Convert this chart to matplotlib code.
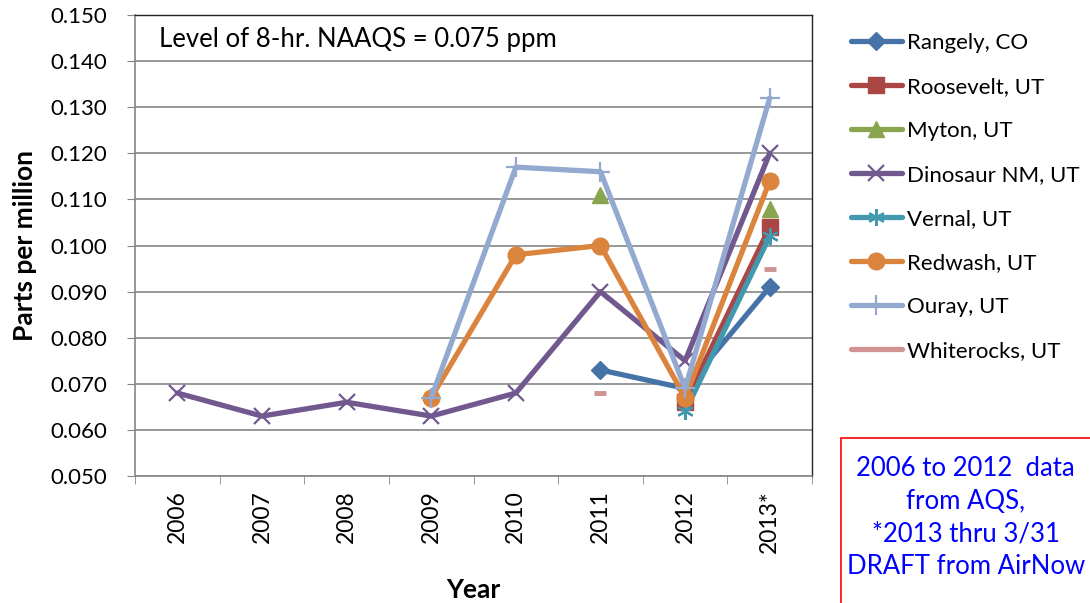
import numpy as np
import matplotlib.pyplot as plt
from matplotlib.patches import Rectangle

plt.rcParams['font.family'] = ['Lato', 'DejaVu Sans']

# Data (ppm, 4th max 8-hr ozone)
years = ["2006", "2007", "2008", "2009", "2010", "2011", "2012", "2013*"]
nan = np.nan
rangely = [nan, nan, nan, nan, nan, 0.073, 0.069, 0.091]
roosevelt = [nan, nan, nan, nan, nan, nan, 0.066, 0.104]
myton = [nan, nan, nan, nan, nan, 0.111, nan, 0.108]
dinosaur = [0.068, 0.063, 0.066, 0.063, 0.068, 0.090, 0.075, 0.120]
vernal = [nan, nan, nan, nan, nan, nan, 0.064, 0.102]
redwash = [nan, nan, nan, 0.067, 0.098, 0.100, 0.067, 0.114]
ouray = [nan, nan, nan, 0.067, 0.117, 0.116, 0.069, 0.132]
whiterocks = [nan, nan, nan, nan, nan, 0.068, nan, 0.095]

series = [
    ("Rangely, CO", rangely, "#4572A7", "D", 9),
    ("Roosevelt, UT", roosevelt, "#AA4643", "s", 11),
    ("Myton, UT", myton, "#89A54E", "^", 12),
    ("Dinosaur NM, UT", dinosaur, "#71588F", "x", 11),
    ("Vernal, UT", vernal, "#4198AF", (6, 2, 0), 12),
    ("Redwash, UT", redwash, "#DB843D", "o", 12),
    ("Ouray, UT", ouray, "#93A9CF", "+", 14),
    ("Whiterocks, UT", whiterocks, "#D19392", "_", 8),
]

fig = plt.figure(figsize=(10.9, 6.03), dpi=100)
ax = fig.add_axes([0.1239, 0.2106, 0.6211, 0.7645])

x = np.arange(len(years))
handles = []
for name, vals, col, mk, ms in series:
    mew = 1.6 if mk in ("x", "+") or isinstance(mk, tuple) else 1.0
    if mk == "_":
        mew = 3.5
    h, = ax.plot(x, vals, color=col, lw=3.8, marker=mk, markersize=ms,
                 markeredgewidth=mew, markeredgecolor=col, markerfacecolor=col,
                 label=name, solid_capstyle="round", solid_joinstyle="round")
    handles.append(h)

ax.set_xlim(-0.5, len(years) - 0.5)
ax.set_ylim(0.05, 0.15)
yt = np.arange(0.05, 0.1501, 0.01)
ax.set_yticks(yt)
ax.set_yticklabels([f"{v:.3f}" for v in yt], fontsize=16)
ax.set_xticks(x)
ax.set_xticklabels(years, rotation=90, fontsize=16.5)
ax.tick_params(axis="x", length=0, pad=10)
ax.set_xticks(np.arange(-0.5, len(years)), minor=True)
ax.tick_params(axis="x", which="minor", length=6, direction="out", color="#868686")
ax.tick_params(axis="y", length=6, direction="out", color="#868686", pad=14)
ax.grid(axis="y", color="#868686", lw=1.2)
ax.set_axisbelow(True)
for side in ("left", "bottom"):
    ax.spines[side].set_color("#868686")
    ax.spines[side].set_linewidth(1.2)
for side in ("top", "right"):
    ax.spines[side].set_color("#222222")
    ax.spines[side].set_linewidth(1.0)

ax.set_ylabel("Parts per million", fontsize=19, fontweight="bold", labelpad=10)
ax.set_xlabel("Year", fontsize=19, fontweight="bold", labelpad=18)

ax.text(0.036, 0.946, "Level of 8-hr. NAAQS = 0.075 ppm", transform=ax.transAxes,
        fontsize=18.5, va="center", ha="left")

fig.legend(handles=handles, loc="upper left", bbox_to_anchor=(0.762, 0.978),
           frameon=False, fontsize=16, handlelength=2.3, handletextpad=0.25,
           labelspacing=1.08)

fig.patches.append(Rectangle((0.7716, -0.1), 0.4, 0.1 + 0.2736,
                             transform=fig.transFigure, fill=False,
                             edgecolor="red", lw=1.2))
fig.text(0.886, 0.142, "2006 to 2012  data\nfrom AQS,\n*2013 thru 3/31\nDRAFT from AirNow",
         ha="center", va="center", color="#0000FF", fontsize=18.5, linespacing=1.38)

plt.savefig("out.png", dpi=100)
